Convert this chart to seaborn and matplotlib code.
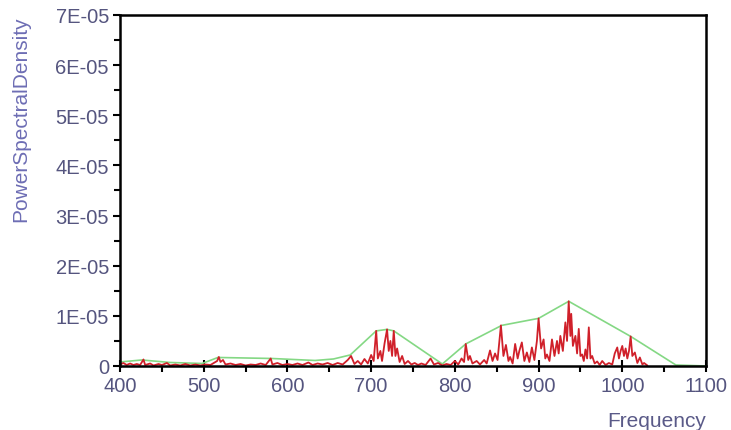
import matplotlib
matplotlib.use("Agg")
import matplotlib.pyplot as plt
from matplotlib.ticker import MultipleLocator, FuncFormatter
import seaborn as sns
import pandas as pd

# Red spectrum: frequency (Hz) and power spectral density (in units of 1e-6)
red_freq = [400, 404, 408, 412, 416, 420, 424, 428, 430, 436, 440, 446, 450, 456, 460, 466, 472, 478, 484, 490,
            496, 502, 508, 512, 516, 518, 520, 523, 526, 532, 538, 544, 550, 556, 562, 568, 574, 580, 582, 588,
            594, 600, 606, 612, 618, 625, 630, 636, 642, 648, 654, 660, 666, 672, 676, 680, 684, 688, 692, 696,
            700, 703, 706, 708, 711, 713, 716, 719, 721, 723, 725, 727, 729, 731, 734, 737, 740, 744, 748, 752,
            756, 760, 765, 771, 775, 780, 785, 790, 795, 800, 804, 808, 811, 813, 816, 818, 821, 826, 830, 835,
            838, 842, 845, 848, 851, 855, 858, 861, 864, 866, 869, 872, 875, 877, 880, 883, 886, 889, 892, 895,
            898, 900, 903, 906, 908, 910, 913, 916, 919, 922, 924, 926, 929, 932, 934, 936, 938, 939, 941, 944,
            946, 948, 950, 952, 954, 956, 958, 960, 962, 964, 967, 970, 973, 976, 980, 984, 988, 991, 994, 996,
            998, 1000, 1002, 1004, 1006, 1008, 1010, 1012, 1015, 1018, 1021, 1024, 1026, 1030]
red_psd_e6 = [0.3, 0.6, 0.2, 0.5, 0.2, 0.4, 0.2, 1.3, 0.2, 0.5, 0.1, 0.4, 0.2, 0.6, 0.1, 0.3, 0.1, 0.4, 0.1, 0.3,
              0.1, 0.3, 0.2, 0.6, 1.0, 1.8, 0.8, 1.2, 0.3, 0.5, 0.2, 0.4, 0.1, 0.3, 0.2, 0.5, 0.2, 1.5, 0.3, 0.6,
              0.2, 0.4, 0.2, 0.5, 0.2, 0.7, 0.2, 0.5, 0.3, 0.6, 0.2, 0.6, 0.3, 1.2, 2.0, 0.4, 1.0, 0.3, 1.4, 0.5,
              2.2, 1.0, 7.0, 1.5, 3.0, 1.0, 4.5, 7.3, 3.0, 5.0, 2.0, 7.0, 2.0, 3.5, 0.8, 2.0, 0.4, 1.0, 0.3, 0.6,
              0.2, 0.5, 0.2, 1.5, 0.3, 0.6, 0.1, 0.4, 0.2, 1.0, 0.3, 1.5, 0.8, 4.4, 1.2, 2.0, 0.5, 1.0, 0.3, 1.2,
              0.5, 3.1, 1.0, 2.5, 1.2, 8.1, 2.0, 4.2, 1.0, 1.8, 0.5, 4.4, 1.5, 3.0, 4.7, 1.0, 2.7, 0.8, 3.7, 1.2,
              5.0, 9.5, 3.5, 5.3, 1.5, 2.3, 1.0, 5.3, 2.0, 5.0, 2.5, 6.0, 3.0, 8.7, 5.0, 12.9, 6.0, 10.4, 4.0, 6.0,
              2.5, 7.4, 2.0, 2.3, 1.0, 3.3, 1.5, 7.7, 1.5, 2.0, 0.5, 0.9, 0.2, 1.0, 0.2, 0.6, 0.3, 2.5, 3.7, 1.5,
              3.0, 4.0, 2.0, 3.5, 1.5, 3.0, 5.9, 2.0, 2.7, 0.6, 1.7, 0.3, 0.6, 0.1]

# Green envelope line (in units of 1e-6)
env_freq = [400, 426, 460, 498, 517, 581, 633, 655, 675, 706, 719, 727, 785, 813, 856, 900, 936, 1010, 1064, 1100]
env_psd_e6 = [0.8, 1.2, 0.7, 0.5, 1.7, 1.5, 1.1, 1.4, 2.2, 7.0, 7.3, 7.0, 0.4, 4.4, 8.1, 9.5, 12.9, 5.9, 0.2, 0.0]

x_ticks = [400, 500, 600, 700, 800, 900, 1000, 1100]
y_ticks = [0, 1e-5, 2e-5, 3e-5, 4e-5, 5e-5, 6e-5, 7e-5]

x_label = "Frequency"
y_label = "PowerSpectralDensity"

red_df = pd.DataFrame({"f": red_freq, "p": [v * 1e-6 for v in red_psd_e6]})
env_df = pd.DataFrame({"f": env_freq, "p": [v * 1e-6 for v in env_psd_e6]})

sns.set_style("ticks")
plt.rcParams["font.family"] = ["Liberation Sans", "DejaVu Sans"]

fig = plt.figure(figsize=(7.31, 4.31), dpi=100)
ax = fig.add_axes([0.1642, 0.1485, 0.8016, 0.8144])

sns.lineplot(data=env_df, x="f", y="p", ax=ax, color="#84d884", linewidth=1.2, estimator=None, sort=False)
sns.lineplot(data=red_df, x="f", y="p", ax=ax, color="#d0202a", linewidth=1.3, estimator=None, sort=False)

ax.set_xlim(400, 1100)
ax.set_ylim(0, 7e-5)
ax.set_xticks(x_ticks)
ax.set_yticks(y_ticks)
ax.xaxis.set_minor_locator(MultipleLocator(50))
ax.yaxis.set_minor_locator(MultipleLocator(5e-6))
ax.yaxis.set_major_formatter(FuncFormatter(lambda v, p: "0" if abs(v) < 1e-12 else f"{v:.0E}"))

tick_color = "#55557f"
ax.tick_params(axis="both", which="major", direction="out", length=5, width=1.5,
               color="black", labelcolor=tick_color, labelsize=14.5, pad=3)
ax.tick_params(axis="x", which="major", direction="inout", length=8)
ax.tick_params(axis="both", which="minor", direction="out", length=4, width=1.5, color="black")

for s in ax.spines.values():
    s.set_visible(True)
    s.set_color("black")
    s.set_linewidth(1.8)

ax.set_xlabel(x_label, loc="right", color="#5a5a88", fontsize=15, labelpad=12)
ax.set_ylabel(y_label, loc="top", color="#6d6db4", fontsize=15, labelpad=18)

fig.savefig("out.png", dpi=100)
